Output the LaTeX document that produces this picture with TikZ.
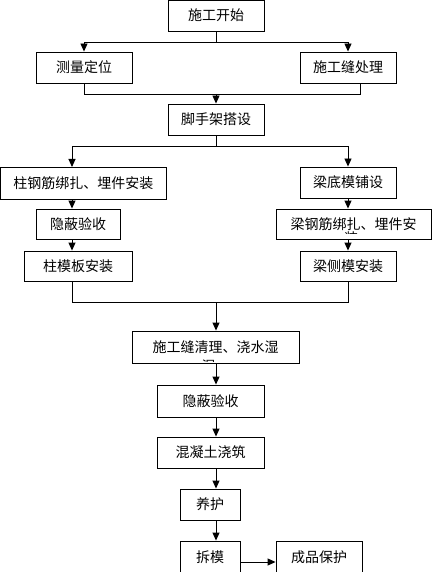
\documentclass[tikz,border=0pt]{standalone}
\usepackage{fontspec}
\newfontfamily\cjk{Noto Sans CJK SC}
\usetikzlibrary{arrows.meta,calc}
\begin{document}
\begin{tikzpicture}[x=1pt,y=-1pt,
  line width=0.9pt,
  bx/.style={draw,line width=0.9pt,inner sep=0pt,font=\cjk\fontsize{14}{16}\selectfont},
  frag/.style={inner sep=0pt,font=\cjk\fontsize{14}{16}\selectfont},
  arr/.style={-{Triangle[length=8pt,width=7pt]}}]
\useasboundingbox (0,0) rectangle (432,572);
% boxes
\node[bx,minimum width=96pt,minimum height=31pt] (start) at (216,15.5) {施工开始};
\node[bx,minimum width=96pt,minimum height=31pt] (survey) at (84,67.5) {测量定位};
\node[bx,minimum width=96pt,minimum height=31pt] (joint) at (348,67.5) {施工缝处理};
\node[bx,minimum width=96pt,minimum height=31pt] (scaff) at (216,119.5) {脚手架搭设};
\node[bx,minimum width=165.5pt,minimum height=32pt] (colreb) at (83.25,183) {柱钢筋绑扎、埋件安装};
\node[bx,minimum width=96pt,minimum height=31pt] (beambot) at (348,182.5) {梁底模铺设};
\node[bx,minimum width=84pt,minimum height=30pt] (hid1) at (78,224) {隐蔽验收};
\node[bx,minimum width=155pt,minimum height=30pt] (beamreb) at (353.5,224) {梁钢筋绑扎、埋件安};
\node[bx,minimum width=108pt,minimum height=30pt] (colform) at (78,266) {柱模板安装};
\node[bx,minimum width=96pt,minimum height=30pt] (beamside) at (348,266) {梁侧模安装};
\node[bx,minimum width=167pt,minimum height=32pt] (clean) at (215.5,347) {施工缝清理、浇水湿};
\node[bx,minimum width=107pt,minimum height=32pt] (hid2) at (210.5,401) {隐蔽验收};
\node[bx,minimum width=107pt,minimum height=31pt] (pour) at (210.5,452.5) {混凝土浇筑};
\node[bx,minimum width=60pt,minimum height=31pt] (cure) at (210,504.5) {养护};
\node[bx,minimum width=60pt,minimum height=33pt] (strip) at (210,557.5) {拆模};
\node[bx,minimum width=86pt,minimum height=33pt] (prot) at (319,557.5) {成品保护};
% clipped second-line fragments
\begin{scope}
  \clip (300,226) rectangle (400,233.5);
  \node[frag] (fragA) at (351,238) {装};
\end{scope}
\begin{scope}
  \clip (180,352) rectangle (240,361);
  \node[frag] (fragB) at (208.5,366) {湿};
\end{scope}
% junction coordinates
\coordinate (j1) at (216,42);
\coordinate (j2) at (216,94);
\coordinate (j3) at (216,146);
\coordinate (j4) at (216,302);
\coordinate (jr) at (360,83);
% connectors
\draw (start.south) -- (j1);
\draw[arr] (j1) -| (survey.north);
\draw[arr] (j1) -| (joint.north);
\draw (survey.south) -- (survey.south |- j2) -- (jr |- j2) -- (jr);
\draw[arr] (j2) -- (scaff.north);
\draw (scaff.south) -- (j3);
\draw[arr] (j3) -| (72,167);
\draw[arr] (j3) -| (beambot.north);
\draw[arr] (72,199) -- (hid1.north -| 72,0);
\draw[arr] (hid1.south -| 72,0) -- (colform.north -| 72,0);
\draw[arr] (beambot.south) -- (beamreb.north -| beambot);
\draw[arr] (beamreb.south -| beambot) -- (beamside.north);
\draw (colform.south -| 72,0) -- (72,302) -- (348,302) -- (beamside.south);
\draw[arr] (j4) -- (clean.north -| j4);
\draw[arr] (clean.south -| j4) -- (hid2.north -| j4);
\draw[arr] (hid2.south -| j4) -- (pour.north -| j4);
\draw[arr] (pour.south -| j4) -- (cure.north -| j4);
\draw[arr] (cure.south -| j4) -- (strip.north -| j4);
\draw[arr] (strip.east |- 0,562) -- (prot.west |- 0,562);
\end{tikzpicture}
\end{document}
